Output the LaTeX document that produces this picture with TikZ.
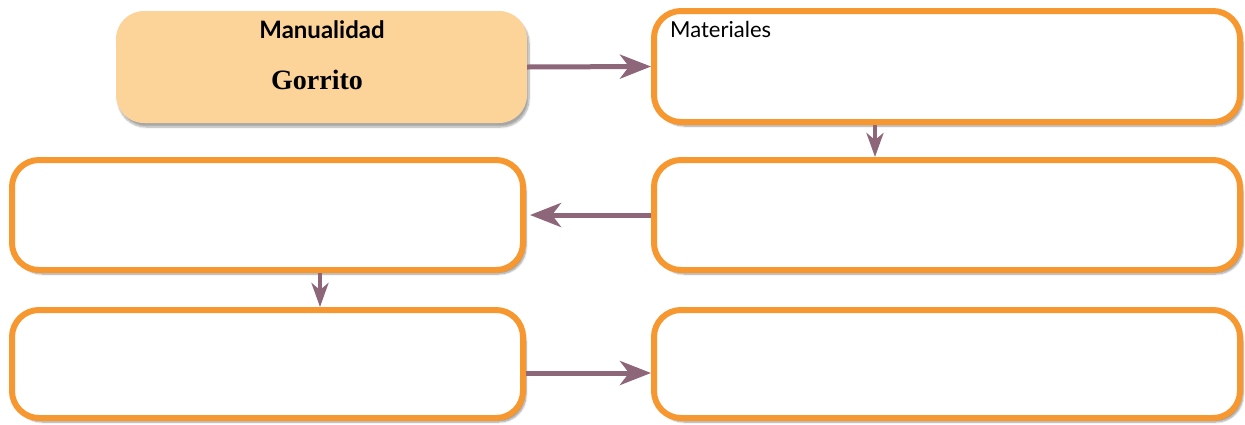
\documentclass[tikz,border=0pt]{standalone}
\usepackage{fontspec}
\setmainfont{Liberation Serif}
\setsansfont{Lato}
\usepackage{xcolor}
\usepackage{tikz}
\usetikzlibrary{
  arrows.meta,
  positioning,
  shadows.blur
}
\definecolor{cardorange}{HTML}{F7972F}
\definecolor{craftfill}{HTML}{FCD398}
\definecolor{arrowmauve}{HTML}{8E6679}
\tikzset{
  arrow/.style     = {-{Stealth[length=31pt, width=24pt, inset=9pt]},
                      line width=5pt, arrowmauve},
  darrow/.style    = {-{Stealth[length=24pt, width=17pt, inset=7pt]},
                      line width=4pt, arrowmauve},
  craftblock/.style = {rectangle, rounded corners=28pt, fill=craftfill,
                       inner sep=0pt,
                       blur shadow={shadow xshift=2pt, shadow yshift=-4pt,
                                    shadow blur steps=8, shadow opacity=35}},
  cardblock/.style  = {rectangle, draw=cardorange, line width=6pt,
                       rounded corners=27pt, fill=white, inner sep=0pt,
                       blur shadow={shadow xshift=3pt, shadow yshift=-4pt,
                                    shadow blur steps=8, shadow opacity=40}},
}

\begin{document}
\begin{tikzpicture}[x=1pt, y=-1pt]
    \useasboundingbox (0,0) rectangle (1245,424);

    % Craft title block
    \node[craftblock, minimum width=411pt, minimum height=112pt]
        (craft) at (321.5, 67) {};
    \node[font=\sffamily\bfseries\fontsize{24}{26}\selectfont]
        (crafttitle) at (322, 30) {Manualidad};
    \node[font=\bfseries\fontsize{28}{30}\selectfont]
        (craftname) at (317, 80) {Gorrito};

    % Empty cards
    \node[cardblock, minimum width=586pt, minimum height=111pt]
        (mat) at (947, 66.5) {};
    \node[cardblock, minimum width=586pt, minimum height=110pt]
        (midR) at (947, 215) {};
    \node[cardblock, minimum width=511pt, minimum height=110pt]
        (midL) at (267.5, 215) {};
    \node[cardblock, minimum width=511pt, minimum height=108pt]
        (botL) at (267.5, 364) {};
    \node[cardblock, minimum width=586pt, minimum height=108pt]
        (botR) at (947, 364) {};

    \node[font=\sffamily\fontsize{22}{24}\selectfont, anchor=base west,
          inner sep=0pt] (matlbl) at (670, 37) {Materiales};

    % Connectors
    \draw[arrow] (craft.east) -- (mat.west);
    \draw[darrow] ([xshift=-72pt]mat.south) -- ([xshift=-72pt]midR.north);
    \draw[arrow] (midR.west) -- ([xshift=4pt]midL.east);
    \draw[darrow] ([xshift=52.5pt]midL.south) -- ([xshift=52.5pt]botL.north);
    \draw[arrow] ([yshift=-9pt]botL.east) -- ([yshift=-9pt]botR.west);

\end{tikzpicture}
\end{document}
